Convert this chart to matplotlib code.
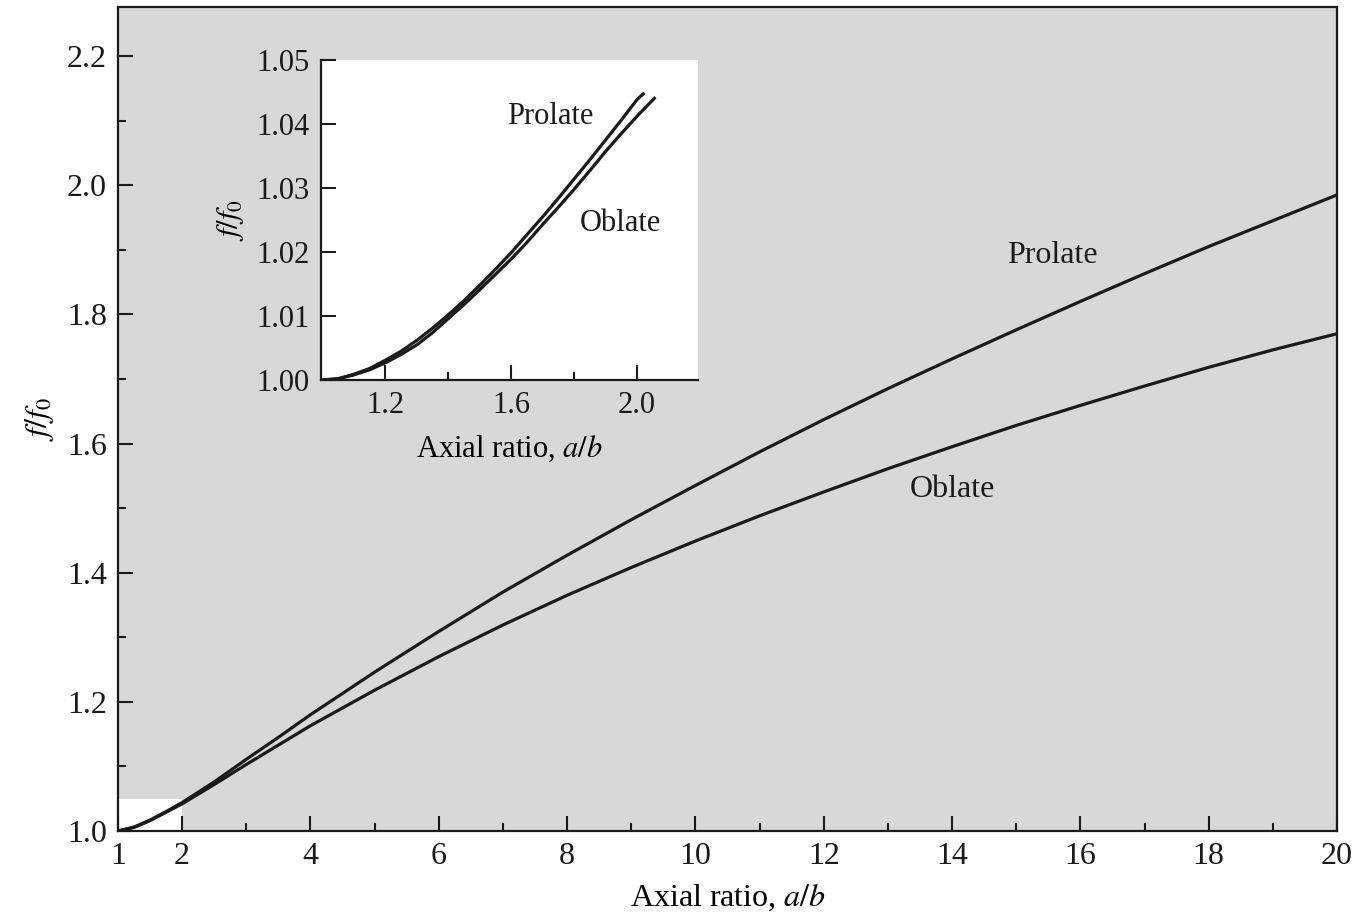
import matplotlib
matplotlib.use("Agg")
import matplotlib.pyplot as plt
from matplotlib.patches import Rectangle
from matplotlib.ticker import FixedLocator

# ---- data ----
axial_ratio = [1, 1.25, 1.5, 1.75, 2, 2.5, 3, 3.5, 4, 5, 6, 7, 8, 9, 10,
               11, 12, 13, 14, 15, 16, 17, 18, 19, 20]
prolate = [1.000, 1.006, 1.017, 1.030, 1.044, 1.076, 1.111, 1.145, 1.180, 1.246,
           1.309, 1.370, 1.427, 1.482, 1.535, 1.587, 1.637, 1.685, 1.731, 1.776,
           1.820, 1.863, 1.905, 1.945, 1.985]
oblate = [1.000, 1.0055, 1.016, 1.029, 1.042, 1.072, 1.103, 1.133, 1.163, 1.218,
          1.270, 1.319, 1.365, 1.408, 1.449, 1.488, 1.525, 1.561, 1.595, 1.628,
          1.659, 1.689, 1.718, 1.745, 1.770]

inset_ratio_prolate = [1.0, 1.05, 1.1, 1.15, 1.2, 1.25, 1.3, 1.35, 1.4, 1.45, 1.5,
                       1.55, 1.6, 1.65, 1.7, 1.75, 1.8, 1.85, 1.9, 1.95, 2.0, 2.02]
inset_prolate = [1.0000, 1.0002, 1.0009, 1.0018, 1.0031, 1.0045, 1.0062, 1.0081,
                 1.0102, 1.0124, 1.0148, 1.0173, 1.0199, 1.0227, 1.0255, 1.0284,
                 1.0314, 1.0344, 1.0375, 1.0406, 1.0438, 1.0447]
inset_ratio_oblate = [1.0, 1.05, 1.1, 1.15, 1.2, 1.25, 1.3, 1.35, 1.4, 1.45, 1.5,
                      1.55, 1.6, 1.65, 1.7, 1.75, 1.8, 1.85, 1.9, 1.95, 2.0, 2.055]
inset_oblate = [1.0000, 1.0002, 1.0008, 1.0016, 1.0027, 1.0040, 1.0055, 1.0074,
                1.0096, 1.0118, 1.0141, 1.0165, 1.0189, 1.0215, 1.0243, 1.0270,
                1.0298, 1.0327, 1.0357, 1.0385, 1.0412, 1.0440]

main_xticks = [1, 2, 4, 6, 8, 10, 12, 14, 16, 18, 20]
main_xminor = [3, 5, 7, 9, 11, 13, 15, 17, 19]
main_yticks = [1.0, 1.2, 1.4, 1.6, 1.8, 2.0, 2.2]
main_yminor = [1.1, 1.3, 1.5, 1.7, 1.9, 2.1]
inset_xticks = [1.2, 1.6, 2.0]
inset_xminor = [1.4, 1.8]
inset_yticks = [1.00, 1.01, 1.02, 1.03, 1.04, 1.05]
zoom_region = (1.0, 2.0, 1.0, 1.05)  # x0, x1, y0, y1 of inset region

plt.rcParams['font.family'] = ['Liberation Serif', 'DejaVu Serif']
plt.rcParams['mathtext.fontset'] = 'stix'
FS = 23
GRAY = '#d8d8d8'
INK = '#1a1a1a'

fig = plt.figure(figsize=(13.59, 9.17), dpi=100)
fig.patch.set_facecolor('white')

ax = fig.add_axes([0.0868, 0.0938, 0.8970, 0.8986])
ax.set_facecolor(GRAY)
ax.add_patch(Rectangle((zoom_region[0], zoom_region[2]),
                       zoom_region[1] - zoom_region[0],
                       zoom_region[3] - zoom_region[2],
                       facecolor='white', edgecolor='none', zorder=1))
ax.plot(axial_ratio, prolate, color=INK, lw=2.3, zorder=3, solid_joinstyle='round')
ax.plot(axial_ratio, oblate, color=INK, lw=2.3, zorder=3, solid_joinstyle='round')
ax.set_xlim(1, 20)
ax.set_ylim(1.0, 2.276)
ax.set_xticks(main_xticks)
ax.set_xticklabels([str(v) for v in main_xticks])
ax.xaxis.set_minor_locator(FixedLocator(main_xminor))
ax.set_yticks(main_yticks)
ax.set_yticklabels([f"{v:.1f}" for v in main_yticks])
ax.yaxis.set_minor_locator(FixedLocator(main_yminor))
ax.tick_params(which='both', direction='in', colors=INK, labelsize=FS,
               top=False, right=False)
ax.tick_params(which='major', length=11, width=1.5, pad=8)
ax.tick_params(which='minor', length=5.5, width=1.5)
for s in ax.spines.values():
    s.set_linewidth(1.6)
    s.set_color(INK)
ax.set_xlabel(r'Axial ratio, $a/b$', fontsize=FS, labelpad=8)
ax.set_ylabel(r'$f/f_0$', fontsize=FS, labelpad=8)
ax.text(15.57, 1.891, 'Prolate', fontsize=FS, ha='center', va='center', color=INK)
ax.text(14.01, 1.529, 'Oblate', fontsize=FS, ha='center', va='center', color=INK)

# ---- inset ----
ins = fig.add_axes([0.2362, 0.5856, 0.2774, 0.3490])
ins.set_facecolor('white')
ins.plot(inset_ratio_prolate, inset_prolate, color=INK, lw=2.3, solid_joinstyle='round')
ins.plot(inset_ratio_oblate, inset_oblate, color=INK, lw=2.3, solid_joinstyle='round')
ins.set_xlim(0.995, 2.194)
ins.set_ylim(1.0, 1.05)
ins.spines['top'].set_visible(False)
ins.spines['right'].set_visible(False)
for s in ['left', 'bottom']:
    ins.spines[s].set_linewidth(1.6)
    ins.spines[s].set_color(INK)
ins.set_xticks(inset_xticks)
ins.set_xticklabels([f"{v:.1f}" for v in inset_xticks])
ins.xaxis.set_minor_locator(FixedLocator(inset_xminor))
ins.set_yticks(inset_yticks)
ins.set_yticklabels([f"{v:.2f}" for v in inset_yticks])
ins.tick_params(which='both', direction='in', colors=INK, labelsize=FS - 1)
ins.tick_params(which='major', length=11, width=1.5, pad=8)
ins.tick_params(which='minor', length=5.5, width=1.5)
ins.set_xlabel(r'Axial ratio, $a/b$', fontsize=FS - 1, labelpad=10)
ins.set_ylabel(r'$f/f_0$', fontsize=FS - 1, labelpad=8)
ins.text(1.723, 1.0411, 'Prolate', fontsize=FS - 1, ha='center', va='center', color=INK)
ins.text(1.946, 1.0245, 'Oblate', fontsize=FS - 1, ha='center', va='center', color=INK)

fig.savefig('out.png', dpi=100, facecolor='white')
